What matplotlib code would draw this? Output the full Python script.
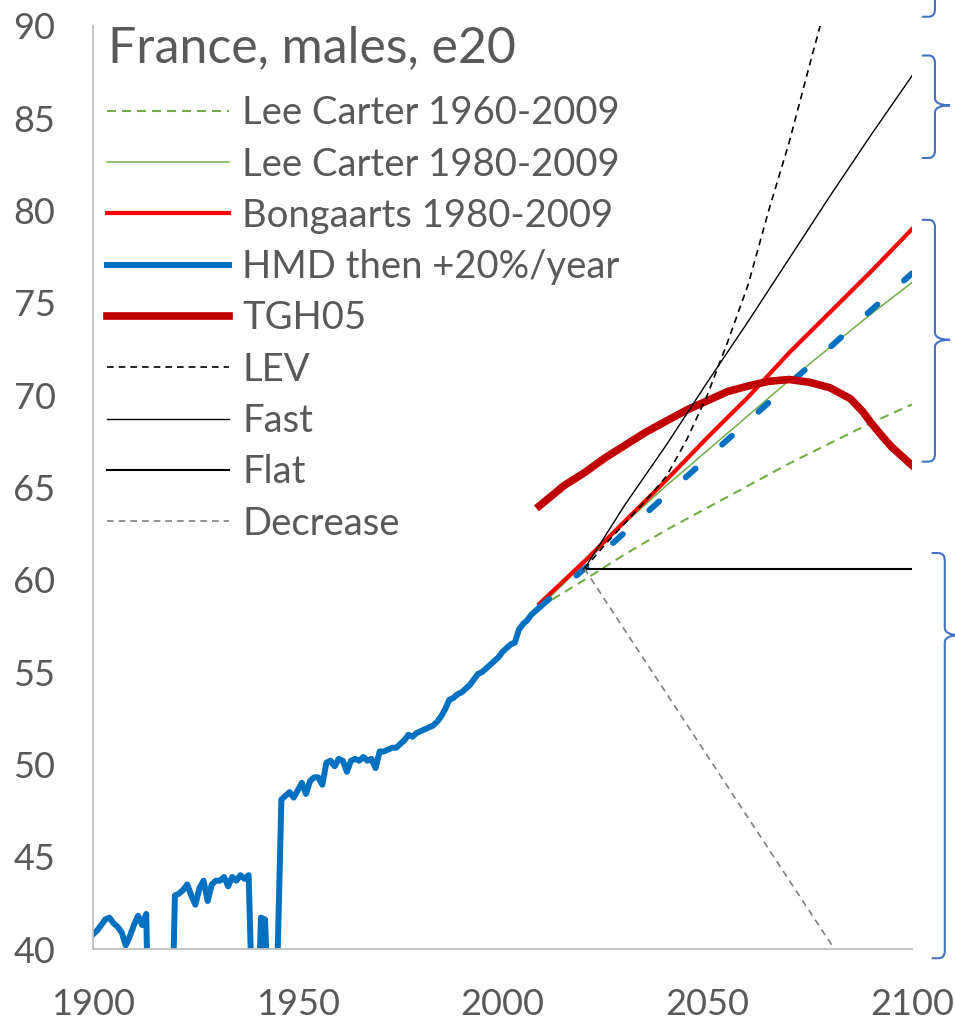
import numpy as np
import matplotlib.pyplot as plt
from matplotlib.path import Path
from matplotlib.patches import PathPatch

plt.rcParams['font.family'] = ['Lato', 'DejaVu Sans']

# Observed e20, France, males (HMD) - war years fall below the axis
hmd_years = list(range(1900, 2010))
hmd_e20 = [40.8, 41.0, 41.3, 41.6, 41.7, 41.4, 41.2, 40.9, 40.2, 40.7,
           41.3, 41.8, 41.3, 41.9, 30.0, 28.0, 29.0, 29.0, 27.0, 33.0,
           42.9, 43.0, 43.2, 43.5, 42.9, 42.4, 43.3, 43.7, 42.6, 43.5,
           43.7, 43.7, 43.9, 43.4, 43.9, 43.7, 44.0, 43.8, 44.0, 36.0,
           34.0, 41.7, 41.6, 36.0, 32.0, 39.0, 48.1, 48.3, 48.5, 48.2,
           48.6, 49.0, 48.4, 49.1, 49.3, 49.3, 48.9, 50.1, 50.2, 49.9,
           50.3, 50.2, 49.6, 50.2, 50.3, 50.2, 50.4, 50.2, 50.3, 49.8,
           50.7, 50.7, 50.8, 50.9, 50.9, 51.1, 51.3, 51.6, 51.5, 51.7,
           51.8, 51.9, 52.0, 52.1, 52.3, 52.6, 53.0, 53.5, 53.6, 53.8,
           53.9, 54.1, 54.3, 54.6, 54.9, 55.0, 55.2, 55.4, 55.6, 55.8,
           56.1, 56.3, 56.5, 56.6, 57.3, 57.6, 57.8, 58.1, 58.3, 58.5]

# Projections
proj_years = [2009, 2020, 2030, 2040, 2050, 2060, 2070, 2080, 2090, 2100]
lc1960 = [58.5, 60.0, 61.4, 62.7, 63.9, 65.1, 66.3, 67.4, 68.5, 69.5]
lc1980 = [58.5, 60.9, 63.1, 65.1, 67.0, 68.9, 70.8, 72.6, 74.4, 76.1]
bongaarts = [58.7, 61.0, 63.2, 65.4, 67.7, 69.9, 72.3, 74.5, 76.7, 79.0]
hmd_proj = [58.5, 60.6, 62.6, 64.6, 66.6, 68.6, 70.6, 72.6, 74.6, 76.6]

tgh_years = [2009, 2015, 2020, 2025, 2030, 2035, 2040, 2045, 2050, 2055, 2060,
             2065, 2070, 2075, 2080, 2085, 2088, 2090, 2093, 2095, 2097, 2100]
tgh05 = [64.0, 65.1, 65.8, 66.6, 67.3, 68.0, 68.6, 69.2, 69.7, 70.2, 70.5,
         70.75, 70.85, 70.7, 70.4, 69.8, 69.1, 68.5, 67.7, 67.2, 66.8, 66.2]

lev_years = [2020, 2025, 2030, 2035, 2040, 2045, 2050, 2055, 2060, 2065, 2070, 2075, 2080]
lev = [60.6, 61.9, 63.1, 64.3, 65.6, 67.6, 70.0, 72.9, 76.0, 80.0, 83.7, 87.9, 92.0]

fast_years = [2020, 2030, 2040, 2050, 2060, 2070, 2080, 2090, 2100]
fast = [60.6, 64.1, 67.3, 70.7, 74.0, 77.4, 80.8, 84.1, 87.3]

flat_years = [2020, 2100]
flat = [60.6, 60.6]
decr_years = [2020, 2100]
decrease = [60.6, 33.6]

# Curly brackets on the right (top, tip, bottom in e20 units)
brace_top = [96.0, 88.4, 79.5, 61.45]
brace_tip = [93.5, 85.7, 73.0, 57.0]
brace_bot = [90.5, 82.85, 66.4, 39.5]
brace_x = [2105.6, 2105.6, 2105.6, 2108.0]

fig = plt.figure(figsize=(9.55, 10.22), dpi=100)
ax = fig.add_axes([0.0974, 0.0714, 0.8576, 0.9032])

ax.plot(proj_years, lc1960, color='#70AD47', lw=1.5, ls=(0, (4.3, 2.9)), label='Lee Carter 1960-2009')
ax.plot(proj_years, lc1980, color='#70AD47', lw=1.1, label='Lee Carter 1980-2009')
ax.plot(proj_years, bongaarts, color='#FF0000', lw=3, label='Bongaarts 1980-2009')
ax.plot(hmd_years, hmd_e20, color='#0070C0', lw=4.3, label='HMD then +20%/year')
ax.plot(proj_years, hmd_proj, color='#0070C0', lw=4.3, ls=(0, (2.2, 6.0)),
        dash_capstyle='round', label='_nolegend_')
ax.plot(tgh_years, tgh05, color='#C00000', lw=5.5, label='TGH05')
ax.plot(lev_years, lev, color='black', lw=1.2, ls=(0, (4, 3)), label='LEV')
ax.plot(fast_years, fast, color='black', lw=1.0, label='Fast')
ax.plot(flat_years, flat, color='black', lw=1.5, label='Flat')
ax.plot(decr_years, decrease, color='#808080', lw=1.2, ls=(0, (4, 3)), label='Decrease')

ax.set_xlim(1900, 2100)
ax.set_ylim(40, 90)
ax.set_xticks([1900, 1950, 2000, 2050, 2100])
ax.set_yticks(np.arange(40, 91, 5))
ax.tick_params(length=0, labelsize=26, colors='#595959')
ax.tick_params(axis='y', pad=27)
ax.tick_params(axis='x', pad=28)
for s in ['top', 'right']:
    ax.spines[s].set_visible(False)
for s in ['left', 'bottom']:
    ax.spines[s].set_color('#BFBFBF')
    ax.spines[s].set_linewidth(1.3)

fig.text(0.1131, 0.953, 'France, males, e20', fontsize=36, color='#595959',
         ha='left', va='center')

leg = ax.legend(loc='upper left', bbox_to_anchor=(0.0963, 0.9217),
                bbox_transform=fig.transFigure, borderaxespad=0,
                frameon=False, fontsize=27.5,
                handlelength=3.2, handletextpad=0.33, labelspacing=0.40,
                labelcolor='#595959')

# curly brackets
for top, tip, bot, xv in zip(brace_top, brace_tip, brace_bot, brace_x):
    x0 = xv - 3.2
    xt = xv + 3.7
    rx, ry = 1.6, 0.4
    verts = [(x0, top), (xv - rx, top), (xv, top), (xv, top - ry),
             (xv, tip + ry), (xv, tip), (xt, tip), (xv, tip), (xv, tip - ry),
             (xv, bot + ry), (xv, bot), (xv - rx, bot), (x0, bot)]
    codes = [Path.MOVETO, Path.LINETO, Path.CURVE3, Path.CURVE3,
             Path.LINETO, Path.CURVE3, Path.CURVE3, Path.CURVE3, Path.CURVE3,
             Path.LINETO, Path.CURVE3, Path.CURVE3, Path.LINETO]
    ax.add_patch(PathPatch(Path(verts, codes), fill=False, edgecolor='#4472C4',
                           lw=1.5, clip_on=False))

fig.savefig('out.png', dpi=100)
